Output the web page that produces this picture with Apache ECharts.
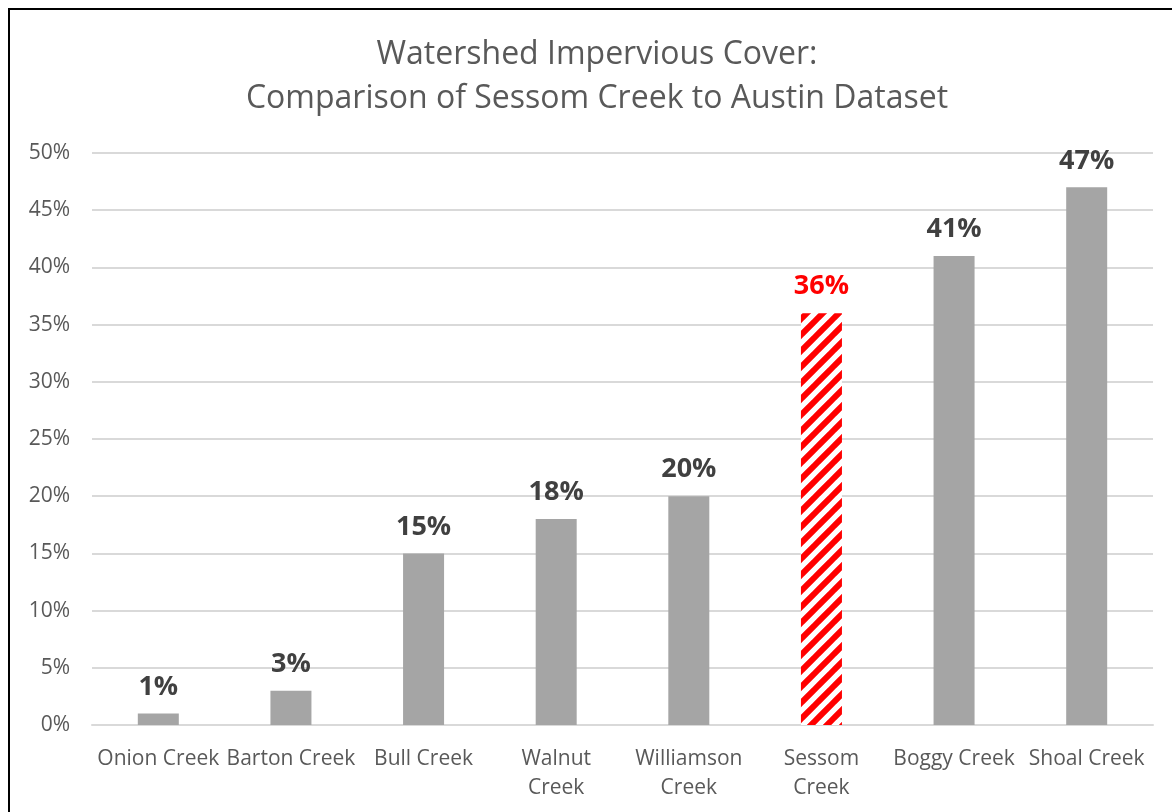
<!DOCTYPE html>
<html>
<head>
<meta charset="utf-8">
<script src="https://cdn.jsdelivr.net/npm/echarts@6/dist/echarts.min.js"></script>
<style>
html,body{margin:0;padding:0;background:#fff;}
#main{width:1172px;height:812px;}
</style>
</head>
<body>
<div id="main"></div>
<script>
const categories = ['Onion Creek','Barton Creek','Bull Creek','Walnut\nCreek','Williamson\nCreek','Sessom\nCreek','Boggy Creek','Shoal Creek'];
const values = [1, 3, 15, 18, 20, 36, 41, 47];
const highlightName = 'Sessom\nCreek';
const titleLines = ['Watershed Impervious Cover:', 'Comparison of Sessom Creek to Austin Dataset'];

function hatch() {
  const s = 16;
  const c = document.createElement('canvas');
  c.width = s; c.height = s;
  const g = c.getContext('2d');
  g.fillStyle = '#fff';
  g.fillRect(0,0,s,s);
  g.strokeStyle = '#ff0000';
  g.lineWidth = 6;
  g.beginPath();
  for (let k = -1; k <= 1; k++) {
    g.moveTo(k*s - 2, s + 2);
    g.lineTo(k*s + s + 2, -2);
  }
  g.stroke();
  return c;
}
const pattern = hatch();

const font = 'Open Sans';
const chart = echarts.init(document.getElementById('main'));
chart.setOption({
  backgroundColor: '#fff',
  animation: false,
  graphic: [
    { type: 'rect', shape: { x: 9, y: 9, width: 1300, height: 1000 }, style: { fill: 'none', stroke: '#000', lineWidth: 2 }, silent: true, z: 100 },
    { type: 'text', x: 597, y: 39, style: { text: titleLines[0], align: 'center', verticalAlign: 'top', font: '32px "Open Sans"', fill: '#595959' } },
    { type: 'text', x: 597, y: 83, style: { text: titleLines[1], align: 'center', verticalAlign: 'top', font: '32px "Open Sans"', fill: '#595959' } }
  ],
  grid: { left: 92, right: 19, top: 153, bottom: 87, containLabel: false },
  xAxis: {
    type: 'category',
    data: categories,
    axisLine: { lineStyle: { color: '#d9d9d9', width: 2 } },
    axisTick: { show: false },
    axisLabel: { interval: 0, color: '#595959', fontFamily: font, fontSize: 21, lineHeight: 29, margin: 20 }
  },
  yAxis: {
    type: 'value',
    min: 0, max: 50, interval: 5,
    axisLine: { show: false },
    axisTick: { show: false },
    splitLine: { lineStyle: { color: '#d9d9d9', width: 2 } },
    axisLabel: { formatter: '{value}%', color: '#595959', fontFamily: font, fontSize: 21, margin: 22 }
  },
  series: [{
    type: 'bar',
    barWidth: 41,
    data: values.map((v, i) => {
      const hi = categories[i] === highlightName;
      return {
        value: v,
        itemStyle: { color: hi ? { image: pattern, repeat: 'repeat' } : '#a5a5a5' },
        label: { color: hi ? '#ff0000' : '#404040' }
      };
    }),
    label: {
      show: true, position: 'top', distance: 13,
      formatter: '{c}%', fontFamily: font, fontWeight: 'bold', fontSize: 27
    }
  }]
});
</script>
</body>
</html>
